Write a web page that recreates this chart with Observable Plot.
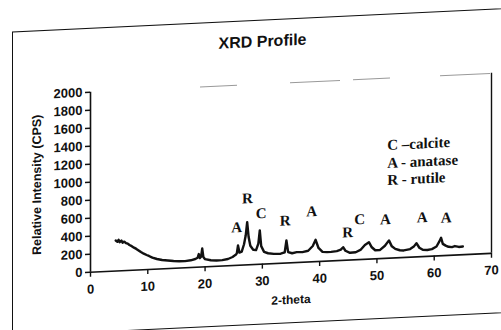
<!DOCTYPE html>
<html>
<head>
<meta charset="utf-8">
<script src="https://cdn.jsdelivr.net/npm/d3@7"></script>
<script src="https://cdn.jsdelivr.net/npm/@observablehq/plot@0.6"></script>
<style>
  html, body { margin: 0; padding: 0; background: #fff; }
  #page { position: relative; width: 501px; height: 330px; overflow: hidden; background: #fff; }
  #sheet { position: absolute; left: 0; top: 0; width: 501px; height: 330px;
           transform: skewY(-2.7deg); transform-origin: 0 0; }
  #frame { position: absolute; left: 12px; top: 32px; width: 560px; height: 305px;
           border: 1.6px solid #111; box-sizing: border-box; }
  #title { position: absolute; left: 12px; top: 46px; width: 501px; text-align: center;
           font: bold 16px/16px "Liberation Sans", Arial, sans-serif; color: #111; }
  #chart { position: absolute; left: 0; top: 0; }
  #chart svg { overflow: visible; }
</style>
</head>
<body>
<div id="page">
  <div id="sheet">
    <div id="frame"></div>
    <div id="title">XRD Profile</div>
    <div id="chart"></div>
  </div>
</div>
<script>
// 2-theta values and relative intensity (CPS)
const theta = [4.4,4.7,4.9,5.1,5.4,5.6,5.9,6.2,6.5,6.8,7.2,7.6,8.0,8.4,8.8,9.3,9.8,10.2,10.8,11.6,12.5,13.5,14.5,15.5,16.5,17.5,18.3,18.7,18.9,19.1,19.3,19.5,19.7,20.0,21.0,22.0,23.0,24.0,24.8,25.4,25.55,25.75,26.0,26.4,26.8,27.1,27.35,27.6,27.9,28.4,28.9,29.3,29.55,29.8,30.3,31.0,32.0,33.2,33.9,34.2,34.5,35.2,36.0,37.0,38.0,38.8,39.3,39.8,40.5,41.3,42.0,43.0,43.7,44.1,44.5,45.3,46.3,47.2,47.9,48.6,49.1,49.7,50.5,51.4,52.1,52.6,53.2,54.0,54.7,55.8,56.5,56.9,57.4,58.0,58.8,59.6,60.4,60.9,61.2,61.5,62.0,62.5,63.1,63.6,64.3,65.0];
const intensity = [340,325,345,318,335,312,322,305,298,282,268,250,235,217,198,178,162,150,130,112,98,90,82,76,74,80,92,105,145,100,115,205,110,85,70,65,65,75,95,120,135,220,140,150,230,330,474,310,210,165,160,230,376,200,135,118,108,106,120,250,120,105,115,112,125,175,242,150,105,99,100,105,120,146,105,80,83,110,160,188,130,95,95,140,197,130,100,82,78,90,120,152,100,75,70,78,105,160,199,130,110,95,90,100,88,91];

// Peak annotations
const peakLetters = ["A","R","C","R","A","R","C","A","A","A"];
const peakTheta   = [25.5,27.4,29.8,34.0,38.6,44.9,47.0,51.5,57.9,62.1];
const peakLevel   = [421,737,563,472,559,307,446,431,434,421];

// Legend
const legendLines = ["C \u2013calcite","A - anatase","R - rutile"];
const legendTheta = 51.8;
const legendLevel = [1256,1056,867];

// Axes
const xTicks = [0,10,20,30,40,50,60,70];
const yTicks = [0,200,400,600,800,1000,1200,1400,1600,1800,2000];
const xLabel = "2-theta";
const yLabel = "Relative Intensity (CPS)";

const profile = theta.map((t, i) => ({theta: t, cps: intensity[i]}));
const peaks = peakLetters.map((s, i) => ({s, theta: peakTheta[i], cps: peakLevel[i]}));
const legend = legendLines.map((s, i) => ({s, theta: legendTheta, cps: legendLevel[i]}));

const serif = "'Liberation Serif', 'Times New Roman', serif";

const chart = Plot.plot({
  width: 501,
  height: 330,
  marginTop: 96,
  marginBottom: 54,
  marginLeft: 90,
  marginRight: 10,
  style: {background: "transparent", fontFamily: "'Liberation Sans', Arial, sans-serif", fontSize: "13px", fontWeight: "bold", color: "#111"},
  x: {domain: [0, 70], label: null},
  y: {domain: [0, 2000], label: null},
  marks: [
    Plot.ruleY([2000], {stroke: "#999", strokeWidth: 1, strokeDasharray: "0,110,37,53,50,13,37,50,50,1000"}),
    Plot.ruleX([70], {stroke: "#111", strokeWidth: 1.4}),
    Plot.ruleY([0], {stroke: "#111", strokeWidth: 1.6}),
    Plot.ruleX([0], {stroke: "#111", strokeWidth: 1.6}),
    Plot.axisX({ticks: xTicks, tickSize: 5, tickPadding: 7, tickFormat: d => String(d), label: null, stroke: "#111", strokeWidth: 1.4, fontSize: 13}),
    Plot.axisY({ticks: yTicks, tickSize: 5, tickPadding: 3, tickFormat: d => String(d), label: null, stroke: "#111", strokeWidth: 1.4, fontSize: 13}),
    Plot.line(profile, {x: "theta", y: "cps", stroke: "#111", strokeWidth: 2.4, strokeLinejoin: "round"}),
    Plot.text(peaks, {x: "theta", y: "cps", text: "s", fontFamily: serif, fontSize: 15, fontWeight: "bold", fill: "#111"}),
    Plot.text(legend, {x: "theta", y: "cps", text: "s", textAnchor: "start", fontFamily: serif, fontSize: 15, fontWeight: "bold", fill: "#111"}),
    Plot.text([yLabel], {frameAnchor: "left", textAnchor: "middle", dx: -54, rotate: -90, fontSize: 12.5, fontWeight: "bold", fill: "#111"}),
    Plot.text([xLabel], {frameAnchor: "bottom", textAnchor: "middle", dy: 41, fontSize: 12, fontWeight: "bold", fill: "#111"})
  ]
});
document.getElementById("chart").appendChild(chart);
</script>
</body>
</html>
